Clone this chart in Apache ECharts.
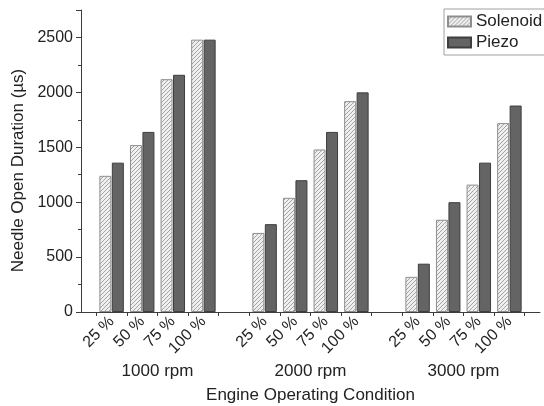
<!DOCTYPE html>
<html>
<head>
<meta charset="utf-8">
<script src="https://cdn.jsdelivr.net/npm/echarts@6/dist/echarts.min.js"></script>
<style>
html, body { margin: 0; padding: 0; background: #fff; }
#chart { width: 544px; height: 406px; }
</style>
</head>
<body>
<div id="chart"></div>
<script>
// engine load steps and speeds
var loads = ['25 %', '50 %', '75 %', '100 %'];
var speeds = ['1000 rpm', '2000 rpm', '3000 rpm'];

// needle open duration in microseconds, per speed
var solenoid1000 = [1240, 1520, 2120, 2480];
var piezo1000 = [1360, 1640, 2160, 2480];
var solenoid2000 = [720, 1040, 1480, 1920];
var piezo2000 = [800, 1200, 1640, 2000];
var solenoid3000 = [320, 840, 1160, 1720];
var piezo3000 = [440, 1000, 1360, 1880];

var yTicks = [0, 500, 1000, 1500, 2000, 2500];

// categories with an empty slot between speed groups
var categories = [];
var solData = [];
var piezoData = [];
var solGroups = [solenoid1000, solenoid2000, solenoid3000];
var piezoGroups = [piezo1000, piezo2000, piezo3000];
for (var g = 0; g < speeds.length; g++) {
  if (g > 0) {
    categories.push('');
    solData.push('-');
    piezoData.push('-');
  }
  for (var i = 0; i < loads.length; i++) {
    categories.push(loads[i]);
    solData.push(solGroups[g][i]);
    piezoData.push(piezoGroups[g][i]);
  }
}

// half-slot axis used only to centre the speed labels under each group
var groupAxis = [];
for (var k = 0; k <= categories.length * 2; k++) groupAxis.push('');
for (var s = 0; s < speeds.length; s++) groupAxis[4 + s * 10] = speeds[s];

function hatch() {
  var c = document.createElement('canvas');
  c.width = 4;
  c.height = 4;
  var ctx = c.getContext('2d');
  ctx.fillStyle = '#efefef';
  ctx.fillRect(0, 0, 4, 4);
  ctx.fillStyle = '#a4a4a4';
  for (var x = 0; x < 4; x++) ctx.fillRect(x, 3 - x, 1, 1);
  return c;
}

var font = "'Liberation Sans', Arial, sans-serif";
var axisColor = '#3c3c3c';
var textColor = '#222';

var chart = echarts.init(document.getElementById('chart'));

var option = {
  animation: false,
  textStyle: { fontFamily: font },
  legend: {
    left: 444,
    top: 9,
    orient: 'vertical',
    icon: 'rect',
    itemWidth: 23,
    itemHeight: 10,
    itemGap: 4,
    padding: [4, 6, 4, 3],
    borderColor: '#a0a0a0',
    borderWidth: 1,
    textStyle: { fontSize: 17, color: textColor, fontFamily: font }
  },
  grid: [
    { left: 81, right: 4, top: 10, bottom: 94, outerBoundsMode: 'none' },
    { left: 96.3, right: 19.3, top: 10, bottom: 94, outerBoundsMode: 'none' }
  ],
  xAxis: [
    {
      gridIndex: 0,
      type: 'value',
      position: 'bottom',
      min: 0,
      max: 1,
      axisLine: { show: true, lineStyle: { color: axisColor, width: 1 } },
      axisTick: { show: false },
      axisLabel: { show: false },
      splitLine: { show: false },
      name: 'Engine Operating Condition',
      nameLocation: 'middle',
      nameGap: 75,
      nameTextStyle: { fontSize: 17, color: textColor, fontFamily: font }
    },
    {
      gridIndex: 1,
      type: 'category',
      position: 'bottom',
      data: categories,
      boundaryGap: true,
      axisLine: { show: false },
      axisTick: { show: true, interval: 0, length: 4, lineStyle: { color: axisColor } },
      axisLabel: { interval: 0, rotate: 45, margin: 7, fontSize: 16, color: textColor, fontFamily: font }
    },
    {
      gridIndex: 1,
      type: 'category',
      position: 'bottom',
      offset: 0,
      data: groupAxis,
      boundaryGap: false,
      axisLine: { show: false },
      axisTick: { show: false },
      axisLabel: { interval: 0, margin: 51, fontSize: 17, color: textColor, fontFamily: font }
    }
  ],
  yAxis: [
    {
      gridIndex: 0,
      type: 'value',
      min: yTicks[0],
      max: 2750,
      interval: yTicks[1] - yTicks[0],
      axisLine: { show: true, lineStyle: { color: axisColor, width: 1 } },
      axisTick: { show: true, length: 5, lineStyle: { color: axisColor } },
      minorTick: { show: true, splitNumber: 2, length: 3, lineStyle: { color: axisColor } },
      axisLabel: {
        margin: 8, fontSize: 16, color: textColor, fontFamily: font, showMaxLabel: false,
        formatter: function (v) { return String(v); }
      },
      splitLine: { show: false },
      name: 'Needle Open Duration (\u00b5s)',
      nameLocation: 'middle',
      nameGap: 49,
      nameTextStyle: { fontSize: 17, color: textColor, fontFamily: font, padding: [0, 19, 0, 0] }
    },
    {
      gridIndex: 1,
      type: 'value',
      min: yTicks[0],
      max: 2750,
      show: false
    }
  ],
  series: [
    {
      name: 'Solenoid',
      type: 'bar',
      xAxisIndex: 1,
      yAxisIndex: 1,
      data: solData,
      barWidth: 12,
      barGap: '4%',
      itemStyle: {
        color: { image: hatch(), repeat: 'repeat' },
        borderColor: '#8e8e8e',
        borderWidth: 1
      }
    },
    {
      name: 'Piezo',
      type: 'bar',
      xAxisIndex: 1,
      yAxisIndex: 1,
      data: piezoData,
      barWidth: 12,
      barGap: '4%',
      itemStyle: {
        color: '#646464',
        borderColor: '#3e3e3e',
        borderWidth: 1
      }
    }
  ]
};

chart.setOption(option);
</script>
</body>
</html>
